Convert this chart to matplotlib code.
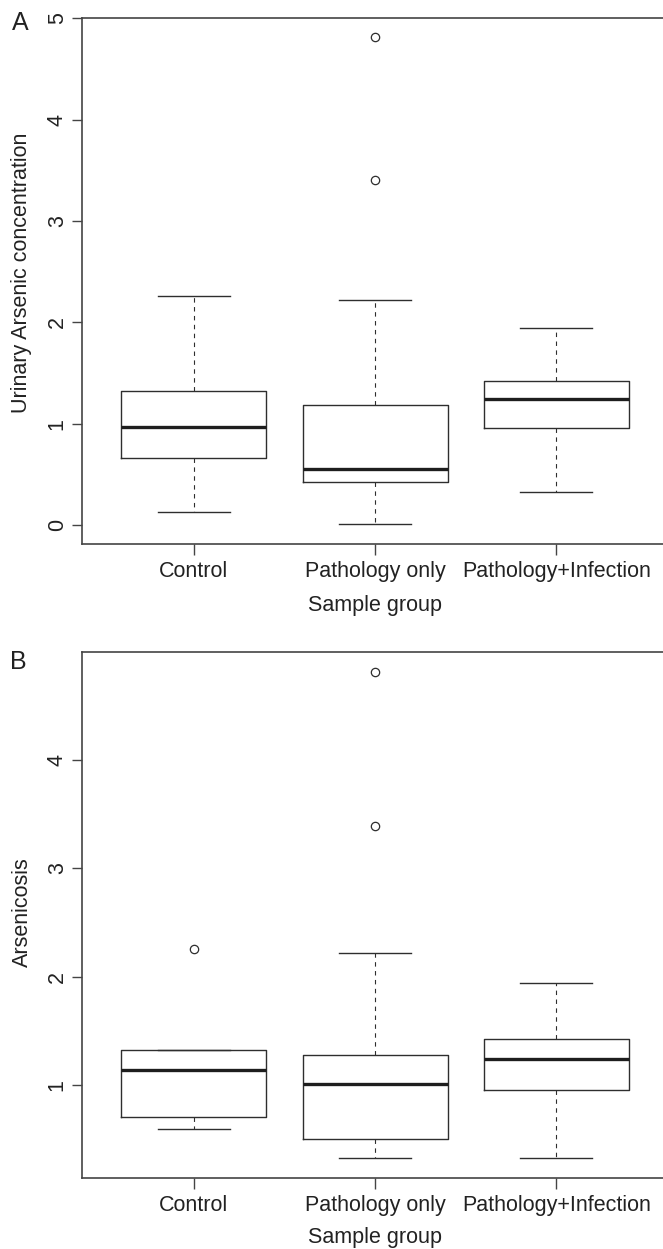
import matplotlib
matplotlib.use("Agg")
import matplotlib.pyplot as plt
from matplotlib import font_manager

# ---------------- data ----------------
groups = ["Control", "Pathology only", "Pathology+Infection"]

# Panel A: Urinary Arsenic concentration
a_whislo = [0.125, 0.01, 0.33]
a_q1 = [0.66, 0.42, 0.96]
a_med = [0.965, 0.553, 1.245]
a_q3 = [1.32, 1.18, 1.425]
a_whishi = [2.255, 2.22, 1.943]
a_fliers = [[], [4.82, 3.40], []]

# Panel B: Arsenicosis
b_whislo = [0.597, 0.326, 0.323]
b_q1 = [0.707, 0.499, 0.957]
b_med = [1.136, 1.006, 1.243]
b_q3 = [1.326, 1.28, 1.422]
b_whishi = [1.326, 2.219, 1.942]
b_fliers = [[2.253], [4.815, 3.39], []]

a_yticks = [0, 1, 2, 3, 4, 5]
b_yticks = [1, 2, 3, 4]

# ---------------- fonts ----------------
names = {f.name for f in font_manager.fontManager.ttflist}
reg = "Liberation Sans" if "Liberation Sans" in names else "DejaVu Sans"
plt.rcParams["font.family"] = [reg, "DejaVu Sans"]

W, H = 663, 1249
fig = plt.figure(figsize=(W / 100, H / 100), dpi=100)

line_c = "#2e2e2e"
spine_c = "#444444"
text_c = "#222222"
FS = 15.5

AX_L, AX_R = 81.6, 668.5          # axes edges in pixels (right edge falls off the image)
AX_W = AX_R - AX_L


def make_stats(whislo, q1, med, q3, whishi, fliers):
    out = []
    for i, g in enumerate(groups):
        out.append(dict(label=g, whislo=whislo[i], q1=q1[i], med=med[i],
                        q3=q3[i], whishi=whishi[i], fliers=fliers[i]))
    return out


def draw_panel(top_px, bot_px, stats, ylim, yticks, ylabel, ylab_y, xlab_px, letter, letter_xy):
    ax = fig.add_axes([AX_L / W, 1 - bot_px / H, AX_W / W, (bot_px - top_px) / H])
    ax.bxp(stats, positions=[1, 2, 3], widths=0.8, capwidths=0.4,
           boxprops=dict(color=line_c, linewidth=1.0),
           medianprops=dict(color="#1e1e1e", linewidth=2.4, solid_capstyle="butt"),
           whiskerprops=dict(color=line_c, linewidth=0.8, linestyle=(0, (4, 4))),
           capprops=dict(color=line_c, linewidth=1.0),
           flierprops=dict(marker="o", markersize=6, markerfacecolor="none",
                           markeredgecolor=line_c, markeredgewidth=0.9))
    ax.set_xlim(0.38, 3.62)
    ax.set_ylim(*ylim)
    ax.set_yticks(yticks)
    ax.set_yticklabels([str(t) for t in yticks])
    ax.set_xticks([1, 2, 3])
    ax.set_xticklabels(groups, fontsize=FS, color=text_c)
    for lab in ax.get_yticklabels():
        lab.set_rotation(90)
        lab.set_va("center")
        lab.set_fontsize(FS)
        lab.set_color(text_c)
    ax.tick_params(axis="x", length=8.1, width=1.0, color=spine_c, pad=4.3)
    ax.tick_params(axis="y", length=7.0, width=1.0, color=spine_c, pad=2.9)
    ax.spines["right"].set_visible(False)
    for s in ["left", "bottom", "top"]:
        ax.spines[s].set_color(spine_c)
        ax.spines[s].set_linewidth(1.2)
    ax.set_ylabel(ylabel, fontsize=FS, color=text_c, va="center")
    ax.yaxis.set_label_coords((22 - AX_L) / AX_W, ylab_y)
    ax.set_xlabel("Sample group", fontsize=FS, color=text_c, va="center")
    ax.xaxis.set_label_coords((374.9 - AX_L) / AX_W, (bot_px - xlab_px) / (bot_px - top_px))
    fig.text(letter_xy[0] / W, 1 - letter_xy[1] / H, letter, fontsize=18,
             ha="center", va="center", color=text_c)
    return ax


draw_panel(18.3, 543.7,
           make_stats(a_whislo, a_q1, a_med, a_q3, a_whishi, a_fliers),
           (-0.1845, 5.0), a_yticks, "Urinary Arsenic concentration",
           0.515, 606, "A", (20, 22.5))
draw_panel(652.3, 1177.7,
           make_stats(b_whislo, b_q1, b_med, b_q3, b_whishi, b_fliers),
           (0.144, 4.994), b_yticks, "Arsenicosis",
           0.505, 1237.5, "B", (18.4, 661.5))

fig.savefig("out.png", dpi=100, facecolor="white")
